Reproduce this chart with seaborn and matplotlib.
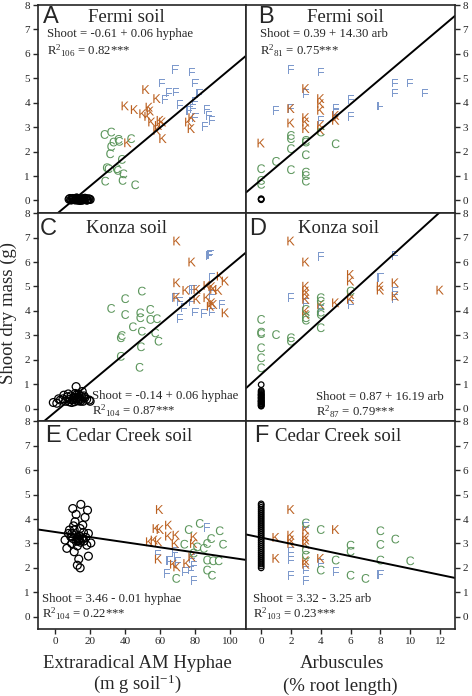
import pandas as pd
import matplotlib
matplotlib.use('Agg')
import matplotlib.pyplot as plt
import seaborn as sns

# %% data
# A - Fermi soil, hyphae
A_F_x = [68.6, 78.1, 61.0, 80.0, 64.8, 69.0, 62.9, 82.3, 79.6, 71.4, 76.6, 78.7, 86.7, 80.0, 87.6, 89.5, 85.3]
A_F_y = [5.36, 5.26, 4.81, 4.81, 4.41, 4.44, 4.14, 4.37, 4.07, 3.92, 3.69, 3.76, 3.72, 3.41, 3.48, 3.28, 3.03]
A_K_x = [51.8, 58.1, 40.0, 45.3, 50.1, 53.7, 54.3, 53.0, 55.2, 60.0, 61.3, 58.1, 61.5, 41.5, 76.2, 78.1, 77.7, 59.0]
A_K_y = [4.54, 4.17, 3.87, 3.72, 3.55, 3.82, 3.66, 3.44, 3.21, 3.28, 3.21, 2.87, 2.53, 2.36, 3.21, 3.39, 2.94, 3.07]
A_C_x = [28.2, 32.0, 36.2, 36.6, 43.4, 33.3, 32.0, 31.4, 38.1, 29.5, 30.5, 35.2, 35.8, 39.0, 28.6, 38.5, 45.7]
A_C_y = [2.70, 2.80, 2.50, 2.42, 2.53, 2.39, 2.21, 1.91, 1.68, 1.34, 1.30, 1.30, 1.23, 1.09, 0.79, 0.82, 0.64]
A_0_x = [8.0, 9.0, 10.0, 11.0, 12.0, 13.0, 14.0, 15.0, 16.0, 17.0, 18.0, 19.0, 20.0, 8.5, 9.5,
         10.5, 11.5, 12.5, 13.5, 14.5, 15.5, 16.5, 17.5, 18.5, 19.5, 12.2, 14.2, 16.2, 10.2, 18.2]
A_0_y = [0.05, 0.02, 0.08, 0.04, 0.06, 0.01, 0.07, 0.03, 0.05, 0.09, 0.02, 0.06, 0.04, 0.08, 0.03,
         0.06, 0.02, 0.09, 0.04, 0.07, 0.01, 0.05, 0.08, 0.03, 0.06, 0.10, 0.00, 0.07, 0.04, 0.02]

# B - Fermi soil, arbuscules
B_F_x = [2, 4, 9, 10, 9, 11, 3, 1, 6, 6, 8, 5, 4, 2, 5]
B_F_y = [5.36, 5.26, 4.81, 4.81, 4.40, 4.40, 4.37, 3.69, 4.13, 3.44, 3.87, 3.76, 3.28, 3.76, 3.55]
B_K_x = [3, 4, 4, 4, 2, 2, 3, 3, 3, 4, 4, 5, 5, 0]
B_K_y = [4.58, 4.17, 3.96, 3.69, 3.76, 3.17, 3.39, 3.21, 2.94, 3.07, 2.87, 3.28, 3.48, 2.35]
B_C_x = [2, 2, 3, 3, 2, 4, 5, 3, 1, 0, 2, 3, 3, 3, 0, 0]
B_C_y = [2.66, 2.53, 2.46, 2.39, 2.12, 2.80, 2.32, 1.87, 1.60, 1.30, 1.26, 1.16, 1.02, 0.79, 0.82, 0.66]
B_0_x = [0, 0, 0]
B_0_y = [0.05, 0.07, 0.03]

# C - Konza soil, hyphae
C_K_x = [69.5, 78.1, 69.5, 69.5, 74.7, 81.0, 86.7, 89.5, 94.3, 97.1, 86.7, 90.5, 93.3, 89.5, 90.5, 81.0, 97.1, 88.6]
C_K_y = [6.86, 6.00, 5.15, 4.56, 4.84, 4.88, 5.04, 4.99, 5.42, 5.22, 4.54, 4.88, 4.84, 4.33, 4.26, 4.47, 3.92, 4.19]
C_F_x = [87.6, 88.6, 89.5, 78.1, 79.4, 68.6, 71.4, 78.1, 73.3, 71.4, 80.0, 84.8, 89.5, 95.2, 89.5]
C_F_y = [6.27, 6.31, 5.36, 4.88, 4.88, 4.54, 4.40, 4.40, 4.13, 3.68, 3.95, 3.89, 3.95, 4.26, 4.67]
C_C_x = [49.5, 40.0, 32.0, 40.0, 48.6, 48.6, 54.3, 54.3, 58.1, 44.4, 38.1, 37.5, 49.5, 57.1, 59.0, 49.0, 37.5, 48.2]
C_C_y = [4.81, 4.50, 4.10, 3.85, 3.92, 3.72, 4.06, 3.65, 3.68, 3.35, 2.99, 2.90, 3.17, 3.10, 2.76, 2.53, 2.14, 1.69]
C_0_x = [-1.0, 1.0, 3.0, 4.5, 6.0, 7.0, 8.0, 9.0, 10.0, 11.0, 12.0, 13.0, 14.0, 15.0, 16.0, 17.0, 18.0, 19.5,
         5.0, 7.5, 9.5, 11.5, 12.5, 13.5, 14.5, 15.5, 10.5, 8.5, 16.5, 12.0, 14.0, 2.0, 20.0, 11.0, 13.0]
C_0_y = [0.25, 0.22, 0.35, 0.40, 0.30, 0.48, 0.28, 0.52, 0.36, 0.45, 0.55, 0.32, 0.42, 0.50, 0.30, 0.45, 0.38, 0.35,
         0.55, 0.60, 0.25, 0.62, 0.40, 0.58, 0.30, 0.70, 0.42, 0.38, 0.52, 0.90, 0.35, 0.40, 0.30, 0.28, 0.48]

# D - Konza soil, arbuscules
D_K_x = [2, 3, 6, 6, 3, 3, 3, 3, 3, 3, 4, 5, 6, 6, 8, 8, 9, 9, 12]
D_K_y = [6.86, 6.00, 5.49, 5.22, 5.01, 4.81, 4.67, 4.47, 3.99, 3.85, 4.26, 4.33, 4.67, 4.47, 5.01, 4.85, 5.15, 4.60, 4.85]
D_F_x = [4, 9, 8, 9, 9, 2, 3, 6, 4]
D_F_y = [6.24, 6.27, 5.36, 4.81, 4.50, 4.54, 4.33, 4.26, 4.06]
D_C_x = [6, 4, 4, 3, 3, 3, 4, 4, 4, 0, 0, 0, 1, 2, 2, 0, 0, 0]
D_C_y = [4.81, 4.54, 4.40, 4.06, 3.72, 3.62, 3.95, 3.85, 3.31, 3.65, 3.13, 3.07, 3.03, 2.90, 2.76, 2.49, 2.08, 1.67]
D_0_x = [0] * 24
D_0_y = [0.10, 0.14, 0.18, 0.22, 0.26, 0.30, 0.34, 0.38, 0.42, 0.46, 0.50, 0.54,
         0.58, 0.62, 0.66, 0.70, 0.74, 0.20, 0.32, 0.44, 0.56, 0.12, 0.28, 0.98]

# E - Cedar Creek soil, hyphae
E_K_x = [59.6, 57.7, 60.0, 64.8, 64.8, 69.1, 53.9, 56.6, 59.0, 68.6, 79.4, 79.0, 78.1, 59.0, 75.2, 67.6, 69.5]
E_K_y = [4.39, 3.61, 3.57, 3.75, 3.30, 3.34, 3.07, 3.14, 3.07, 3.00, 3.27, 3.00, 2.45, 2.36, 2.18, 2.15, 2.04]
E_F_x = [86.7, 68.6, 69.5, 58.5, 65.3, 78.1, 79.0, 63.8, 74.3, 77.5, 79.4, 69.9]
E_F_y = [3.66, 2.66, 2.45, 2.56, 2.29, 2.38, 2.11, 1.77, 1.84, 1.91, 1.50, 2.25]
E_C_x = [76.2, 82.5, 93.9, 73.7, 89.0, 86.7, 95.8, 81.0, 84.8, 79.0, 86.7, 90.1, 93.3, 86.7, 89.5, 69.1]
E_C_y = [3.57, 3.82, 3.52, 2.97, 3.20, 3.00, 2.97, 2.86, 2.80, 2.61, 2.32, 2.29, 2.29, 1.91, 1.70, 1.57]
E_0_x = [10.1, 14.7, 18.5, 12.0, 17.1, 11.4, 8.2, 7.6, 10.9, 14.3, 16.2, 19.0, 20.4, 5.7, 9.5, 13.3,
         15.8, 12.7, 18.1, 6.7, 10.9, 13.5, 12.7, 14.3, 19.0, 9.0, 15.3, 12.0, 13.9, 10.5, 15.8,
         12.5, 13.2, 11.8, 14.5, 12.9, 13.8, 10.2, 16.5, 9.5, 17.5]
E_0_y = [4.43, 4.60, 4.36, 4.19, 4.07, 3.89, 3.55, 3.41, 3.55, 3.61, 3.45, 3.41, 3.02, 3.14, 3.00, 3.14,
         3.18, 2.90, 2.93, 2.80, 2.66, 2.36, 2.11, 2.00, 2.48, 3.27, 3.23, 3.09, 3.31, 3.72, 3.75,
         3.20, 3.10, 3.35, 3.05, 3.25, 3.18, 3.20, 3.10, 3.40, 3.25]

# F - Cedar Creek soil, arbuscules
F_K_x = [2, 1, 1, 2, 2, 2, 3, 3, 3, 3, 3, 3, 4, 5]
F_K_y = [4.39, 3.25, 2.39, 3.34, 3.14, 3.00, 3.55, 3.27, 3.14, 2.97, 2.29, 2.15, 2.39, 3.57]
F_F_x = [2, 2, 2, 3, 3, 3, 4, 5, 8]
F_F_y = [2.66, 2.32, 1.70, 3.68, 1.91, 1.50, 2.18, 1.84, 1.74]
F_C_x = [3, 3, 3, 4, 4, 5, 6, 6, 6, 7, 8, 8, 8, 9, 10]
F_C_y = [3.84, 2.73, 2.52, 3.57, 1.91, 2.32, 2.93, 2.68, 1.70, 1.57, 3.52, 2.96, 2.32, 3.18, 2.29]
F_0_x = [0] * 34
F_0_y = [2.00, 2.08, 2.16, 2.24, 2.32, 2.40, 2.48, 2.56, 2.64, 2.72, 2.80, 2.88, 2.96, 3.04, 3.12, 3.20, 3.28,
         3.36, 3.44, 3.52, 3.60, 3.68, 3.76, 3.84, 3.92, 4.00, 4.08, 4.16, 4.24, 4.32, 4.40, 4.48, 4.56, 4.62]

# fitted lines (intercept, slope) as drawn
fit_int = [-0.61, 0.85, -0.14, 1.40, 3.47, 3.24]
fit_slope = [0.06, 0.516, 0.06, 0.554, -0.0105, -0.127]

letters = ['A', 'B', 'C', 'D', 'E', 'F']
soils = ['Fermi soil', 'Fermi soil', 'Konza soil', 'Konza soil', 'Cedar Creek soil', 'Cedar Creek soil']
eq_text = ['Shoot = -0.61 + 0.06 hyphae', 'Shoot = 0.39 + 14.30 arb',
           'Shoot = -0.14 + 0.06 hyphae', 'Shoot = 0.87 + 16.19 arb',
           'Shoot = 3.46 - 0.01 hyphae', 'Shoot = 3.32 - 3.25 arb']
r2_text = [r'R$^{2}$$_{106}$ = 0.82***', r'R$^{2}$$_{81}$ = 0.75***',
           r'R$^{2}$$_{104}$ = 0.87***', r'R$^{2}$$_{87}$ = 0.79***',
           r'R$^{2}$$_{104}$ = 0.22***', r'R$^{2}$$_{103}$ = 0.23***']

# %% tables for seaborn
raw = {
    'A': (A_F_x, A_F_y, A_K_x, A_K_y, A_C_x, A_C_y, A_0_x, A_0_y),
    'B': (B_F_x, B_F_y, B_K_x, B_K_y, B_C_x, B_C_y, B_0_x, B_0_y),
    'C': (C_F_x, C_F_y, C_K_x, C_K_y, C_C_x, C_C_y, C_0_x, C_0_y),
    'D': (D_F_x, D_F_y, D_K_x, D_K_y, D_C_x, D_C_y, D_0_x, D_0_y),
    'E': (E_F_x, E_F_y, E_K_x, E_K_y, E_C_x, E_C_y, E_0_x, E_0_y),
    'F': (F_F_x, F_F_y, F_K_x, F_K_y, F_C_x, F_C_y, F_0_x, F_0_y),
}

def monta_tabela(p):
    fx, fy, kx, ky, cx, cy, _, _ = raw[p]
    return pd.concat([
        pd.DataFrame({'x': fx, 'y': fy, 'grp': 'F'}),
        pd.DataFrame({'x': kx, 'y': ky, 'grp': 'K'}),
        pd.DataFrame({'x': cx, 'y': cy, 'grp': 'C'}),
    ], ignore_index=True)

# %%
sns.set_style('ticks')
plt.rcParams['font.family'] = ['Liberation Serif', 'DejaVu Serif']
plt.rcParams['mathtext.fontset'] = 'custom'
plt.rcParams['mathtext.rm'] = 'Liberation Serif'
plt.rcParams['mathtext.it'] = 'Liberation Serif:italic'
plt.rcParams['mathtext.sf'] = 'Liberation Sans'
plt.rcParams['axes.linewidth'] = 1.2

cores = {'F': '#7d99cc', 'K': '#bb6020', 'C': '#5c965c'}
marcadores = {'F': r'$\mathsf{F}$', 'K': r'$\mathsf{K}$', 'C': r'$\mathsf{C}$'}

fig, axes = plt.subplots(3, 2, figsize=(4.72, 6.96), dpi=100)
fig.subplots_adjust(left=0.0795, right=0.964, top=0.9935, bottom=0.0963, hspace=0, wspace=0)

title_y = [0.94, 0.94, 0.922, 0.922, 0.925, 0.925]
letter_x = [0.026, 0.056, 0.012, 0.013, 0.036, 0.038]
title_x = [0.424, 0.474, 0.424, 0.443, 0.439, 0.44]
eq_pos = [(0.044, 0.858, 0.78), (0.067, 0.858, 0.78),
          (0.26, 0.117, 0.05), (0.332, 0.114, 0.045),
          (0.02, 0.143, 0.074), (0.03, 0.143, 0.074)]

for i, p in enumerate(letters):
    ax = axes[i // 2, i % 2]
    direita = (i % 2 == 1)
    df = monta_tabela(p)
    ox, oy = raw[p][6], raw[p][7]

    sns.scatterplot(data=df, x='x', y='y', hue='grp', style='grp', palette=cores,
                    markers=marcadores, s=40, linewidth=0, legend=False, ax=ax)
    sns.scatterplot(x=ox, y=oy, ax=ax, marker='o', s=16 if direita else 32,
                    facecolor='none', edgecolor='black', linewidth=0.9, legend=False)

    xs = [-1, 13] if direita else [-10, 109]
    sns.lineplot(x=xs, y=[fit_int[i] + fit_slope[i] * v for v in xs], ax=ax,
                 color='black', linewidth=1.4)

    ax.set_xlim(xs)
    ax.set_ylim(-0.5, 8.02)
    ax.set_yticks(range(0, 9))
    ax.set_xlabel('')
    ax.set_ylabel('')
    ax.tick_params(axis='both', labelsize=8, length=3.5, width=1, pad=2, direction='out')
    if direita:
        ax.yaxis.tick_right()
        ax.set_xticks(range(0, 13, 2))
    else:
        ax.set_xticks(range(0, 101, 20))
    if i < 4:
        ax.tick_params(axis='x', bottom=False, labelbottom=False)

    ax.text(letter_x[i], title_y[i], p, transform=ax.transAxes,
            fontsize=17, family='Liberation Sans', ha='left', va='center')
    ax.text(title_x[i], title_y[i], soils[i], transform=ax.transAxes,
            fontsize=13.5, ha='center', va='center')
    ex, ey1, ey2 = eq_pos[i]
    ax.text(ex, ey1, eq_text[i], transform=ax.transAxes, fontsize=9.2, ha='left', va='center')
    ax.text(ex, ey2, r2_text[i], transform=ax.transAxes, fontsize=9.2, ha='left', va='center')

fig.text(0.017, 0.55, 'Shoot dry mass (g)', rotation=90, ha='center', va='center', fontsize=13.5)
fig.text(0.29, 0.0474, 'Extraradical AM Hyphae', ha='center', va='center', fontsize=13.5)
fig.text(0.29, 0.002, r'(m g soil$^{-1}$)', ha='center', va='bottom', fontsize=13.5)
fig.text(0.725, 0.0474, 'Arbuscules', ha='center', va='center', fontsize=13.5)
fig.text(0.72, 0.002, '(% root length)', ha='center', va='bottom', fontsize=13.5)

plt.savefig('out.png', dpi=100)
